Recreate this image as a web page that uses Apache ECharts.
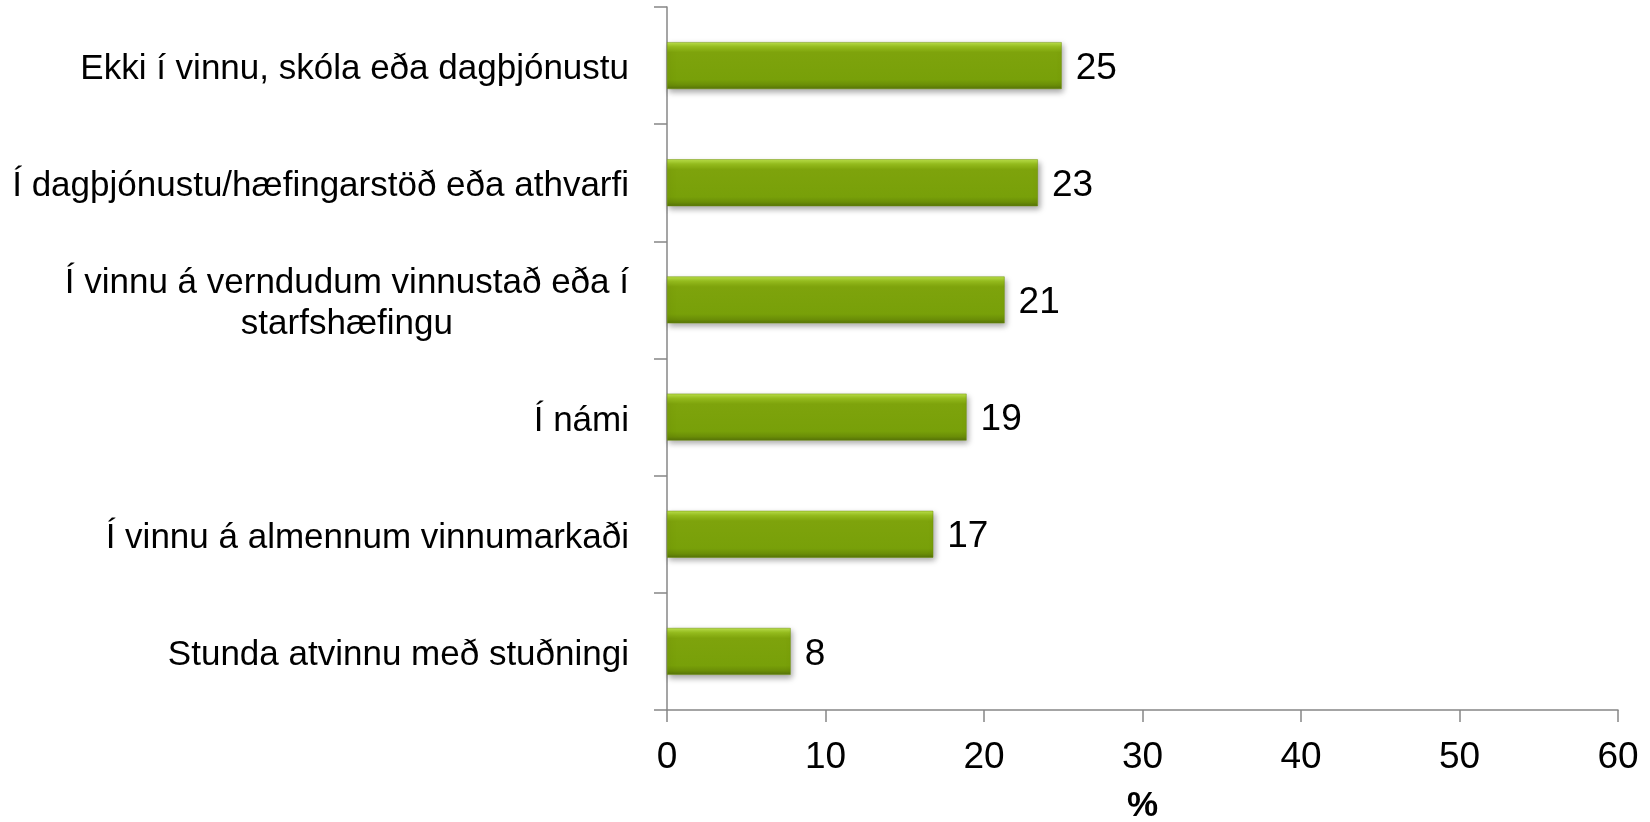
<!DOCTYPE html>
<html>
<head>
<meta charset="utf-8">
<script src="https://cdn.jsdelivr.net/npm/echarts@6/dist/echarts.min.js"></script>
<style>
  html, body { margin: 0; padding: 0; background: #fff; }
  #chart { width: 1650px; height: 822px; }
</style>
</head>
<body>
<div id="chart"></div>
<script>
const categories = [
  'Ekki í vinnu, skóla eða dagþjónustu',
  'Í dagþjónustu/hæfingarstöð eða athvarfi',
  'Í vinnu á verndudum vinnustað eða í\nstarfshæfingu',
  'Í námi',
  'Í vinnu á almennum vinnumarkaði',
  'Stunda atvinnu með stuðningi'
]
const values = [24.9, 23.4, 21.3, 18.9, 16.8, 7.8]
const xTicks = [0, 10, 20, 30, 40, 50, 60]

const fontFamily = "'Liberation Sans Narrow', 'Arial Narrow', 'Liberation Sans', sans-serif"
const axisColor = '#878787'

const chart = echarts.init(document.getElementById('chart'))

chart.setOption({
  animation: false,
  grid: {
    left: 667,
    right: 32,
    top: 7,
    bottom: 112,
    outerBoundsMode: 'none'
  },
  xAxis: {
    type: 'value',
    min: xTicks[0],
    max: xTicks[xTicks.length - 1],
    interval: 10,
    name: '%',
    nameLocation: 'middle',
    nameGap: 79,
    nameTextStyle: {
      fontFamily: fontFamily,
      fontSize: 35,
      fontWeight: 'bold',
      color: '#000'
    },
    splitLine: { show: false },
    axisLine: { show: true, lineStyle: { color: axisColor, width: 1.5 } },
    axisTick: { show: true, length: 12, lineStyle: { color: axisColor, width: 1.5 } },
    axisLabel: {
      margin: 29,
      fontFamily: fontFamily,
      fontSize: 37,
      color: '#000'
    }
  },
  yAxis: {
    type: 'category',
    inverse: true,
    data: categories,
    axisLine: { show: true, lineStyle: { color: axisColor, width: 1.5 } },
    axisTick: { show: true, length: 13, lineStyle: { color: axisColor, width: 1.5 } },
    axisLabel: {
      margin: 38,
      padding: [8, 0, 0, 0],
      fontFamily: fontFamily,
      fontSize: 35,
      lineHeight: 41,
      color: '#000',
      formatter: function(value) {
        // center each line inside the label block, like the original
        return value.split('\n').map(line => '{c|' + line + '}').join('\n')
      },
      rich: {
        c: {
          align: 'center',
          fontFamily: fontFamily,
          fontSize: 35,
          lineHeight: 41,
          color: '#000'
        }
      }
    }
  },
  series: [{
    type: 'bar',
    data: values,
    barWidth: '40%',
    itemStyle: {
      color: new echarts.graphic.LinearGradient(0, 0, 0, 1, [
        { offset: 0, color: '#bde34c' },
        { offset: 0.1, color: '#97be1e' },
        { offset: 0.22, color: '#7ea30c' },
        { offset: 0.8, color: '#78a009' },
        { offset: 0.92, color: '#6a8d07' },
        { offset: 1, color: '#55720a' }
      ]),
      borderColor: '#6f9108',
      borderWidth: 0.5,
      shadowColor: 'rgba(0, 0, 0, 0.35)',
      shadowBlur: 6,
      shadowOffsetX: 2,
      shadowOffsetY: 3
    },
    label: {
      show: true,
      position: 'right',
      distance: 14,
      offset: [0, 3],
      fontFamily: fontFamily,
      fontSize: 37,
      color: '#000',
      formatter: function(p) {
        return Math.round(p.value)
      }
    }
  }]
})
</script>
</body>
</html>
